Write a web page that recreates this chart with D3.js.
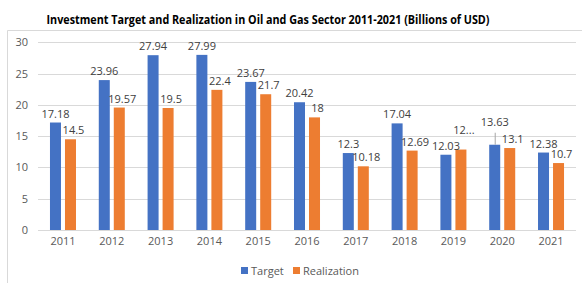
<!DOCTYPE html>
<html>
<head>
<meta charset="utf-8">
<script src="https://cdn.jsdelivr.net/npm/d3@7"></script>
<style>
  body { margin: 0; background: #fff; }
  text { font-family: "Open Sans", "Liberation Sans", sans-serif; }
</style>
</head>
<body>
<div id="chart"></div>
<script>
var years = ["2011", "2012", "2013", "2014", "2015", "2016", "2017", "2018", "2019", "2020", "2021"];
var target = [17.18, 23.96, 27.94, 27.99, 23.67, 20.42, 12.3, 17.04, 12.03, 13.63, 12.38];
var realization = [14.5, 19.57, 19.5, 22.4, 21.7, 18, 10.18, 12.69, 12.86, 13.1, 10.7];
var yTicks = [0, 5, 10, 15, 20, 25, 30];
var seriesNames = ["Target", "Realization"];
var colors = ["#4472c4", "#ed7d31"];

var width = 582, height = 283;
var svg = d3.select("#chart").append("svg")
    .attr("width", width)
    .attr("height", height);

// chart frame
svg.append("path")
    .attr("d", "M7.5,283 V30.5 H582")
    .attr("fill", "none")
    .attr("stroke", "#d9d9d9");

// title
svg.append("text")
    .attr("x", 268)
    .attr("y", 24)
    .attr("text-anchor", "middle")
    .attr("textLength", 443)
    .attr("lengthAdjust", "spacingAndGlyphs")
    .style("font-size", "12.5px")
    .style("font-weight", "bold")
    .attr("fill", "#000")
    .text("Investment Target and Realization in Oil and Gas Sector 2011-2021 (Billions of USD)");

var x = d3.scaleBand().domain(years).range([38.6, 575.4]).paddingInner(0.467).paddingOuter(0.233);
var xSub = d3.scaleBand().domain(seriesNames).range([0, x.bandwidth()]).paddingInner(0.267);
var y = d3.scaleLinear().domain([0, 30]).range([230, 42.3]);

// gridlines
svg.append("g").selectAll("line")
    .data(yTicks)
    .join("line")
    .attr("x1", 38).attr("x2", 576)
    .attr("y1", d => Math.round(y(d)) + 0.5)
    .attr("y2", d => Math.round(y(d)) + 0.5)
    .attr("stroke", "#d9d9d9");

// y axis labels
var yAxis = d3.axisLeft(y).tickValues(yTicks).tickSize(0).tickPadding(0);
svg.append("g")
    .attr("transform", "translate(28,0)")
    .call(yAxis)
    .call(g => g.select(".domain").remove())
    .call(g => g.selectAll("text").attr("fill", "#595959").style("font-size", "11px"));

// x axis labels
var xAxis = d3.axisBottom(x).tickSize(0).tickPadding(7);
svg.append("g")
    .attr("transform", "translate(0,230)")
    .call(xAxis)
    .call(g => g.select(".domain").remove())
    .call(g => g.selectAll("text").attr("fill", "#595959").style("font-size", "11px"));

var rows = years.map((yr, i) => ({year: yr, vals: [target[i], realization[i]]}));

var groups = svg.append("g").selectAll("g")
    .data(rows)
    .join("g")
    .attr("transform", d => "translate(" + x(d.year) + ",0)");

groups.selectAll("rect")
    .data(d => d.vals.map((v, k) => ({name: seriesNames[k], v: v, k: k, year: d.year})))
    .join("rect")
    .attr("x", d => xSub(d.name))
    .attr("y", d => y(d.v))
    .attr("width", xSub.bandwidth())
    .attr("height", d => y(0) - y(d.v))
    .attr("fill", d => colors[d.k]);

// data labels
var lift = {"2020-0": 14, "2019-1": 11};
groups.selectAll("text.lbl")
    .data(d => d.vals.map((v, k) => ({name: seriesNames[k], v: v, k: k, year: d.year})))
    .join("text")
    .attr("class", "lbl")
    .attr("x", d => xSub(d.name) + xSub.bandwidth() / 2 + (d.k === 1 ? 3 : 0))
    .attr("y", d => y(d.v) - 5 - (lift[d.year + "-" + d.k] || 0))
    .attr("text-anchor", "middle")
    .attr("fill", "#404040")
    .style("font-size", "11px")
    .text(d => (d.year === "2019" && d.k === 1) ? "12..." : d.v);

// leader line for raised 2020 label
svg.append("line")
    .attr("x1", x("2020") + xSub("Target") + xSub.bandwidth() / 2 + 0.5)
    .attr("x2", x("2020") + xSub("Target") + xSub.bandwidth() / 2 + 0.5)
    .attr("y1", y(13.63) - 12)
    .attr("y2", y(13.63))
    .attr("stroke", "#a6a6a6");

// legend
var legend = svg.append("g").attr("transform", "translate(241,272)");
var legX = [0, 52];
seriesNames.forEach((n, i) => {
    legend.append("rect")
        .attr("x", legX[i]).attr("y", -5)
        .attr("width", 7).attr("height", 7)
        .attr("fill", colors[i]);
    legend.append("text")
        .attr("x", legX[i] + 10).attr("y", 2.5)
        .attr("fill", "#595959")
        .style("font-size", "11px")
        .text(n);
});
</script>
</body>
</html>
